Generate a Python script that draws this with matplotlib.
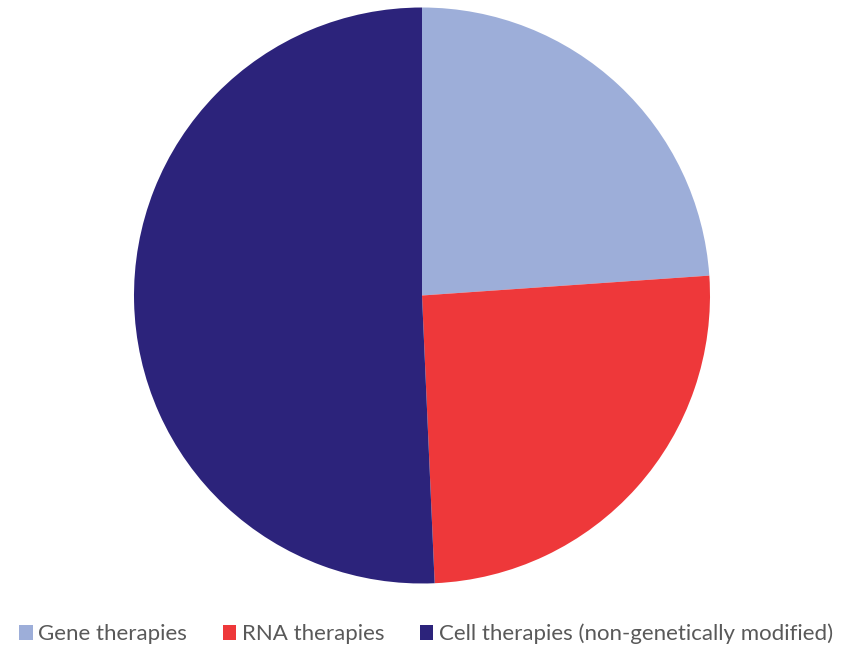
import matplotlib
matplotlib.use("Agg")
import matplotlib.pyplot as plt
from matplotlib.patches import Patch

categories = ["Gene therapies", "RNA therapies", "Cell therapies (non-genetically modified)"]
values = [23.9, 25.4, 50.7]
colors = ["#9DAED9", "#EE383A", "#2C237B"]

fig = plt.figure(figsize=(8.56, 6.46), dpi=100)
W, H = 856, 646
cx, cy, r = 422, 295.5, 288
ax = fig.add_axes([(cx - r) / W, (H - cy - r) / H, 2 * r / W, 2 * r / H])
ax.pie(values, colors=colors, startangle=90, counterclock=False, radius=1,
       wedgeprops=dict(linewidth=0))
ax.set_xlim(-1, 1)
ax.set_ylim(-1, 1)
ax.set_aspect("equal")
ax.axis("off")

handles = [Patch(facecolor=c, edgecolor="none") for c in colors]
fig.legend(handles, categories, loc="center", bbox_to_anchor=(426 / W, 1 - 634 / H),
           ncol=3, frameon=False, labelcolor="#595959",
           handlelength=0.6, handleheight=0.6, handletextpad=0.25, columnspacing=1.6,
           prop=dict(family="Lato", size=16))
fig.savefig("out.png", dpi=100)
